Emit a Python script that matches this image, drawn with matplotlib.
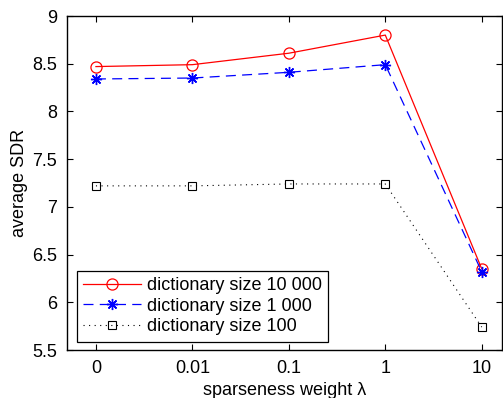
import numpy as np
import matplotlib
matplotlib.use('Agg')
import matplotlib.pyplot as plt

plt.rcParams['font.family'] = ['Liberation Sans', 'DejaVu Sans']

# Data
lambdas = ['0', '0.01', '0.1', '1', '10']
sdr_10000 = [8.47, 8.49, 8.61, 8.80, 6.35]
sdr_1000 = [8.34, 8.35, 8.41, 8.49, 6.32]
sdr_100 = [7.22, 7.22, 7.24, 7.24, 5.74]

x = np.arange(len(lambdas))

fig = plt.figure(figsize=(5.03, 3.98), dpi=100)
ax = fig.add_axes([67/503, 1 - 350/398, (502-67)/503, (350-16)/398])

ax.plot(x, sdr_10000, 'r-', marker='o', mfc='none', ms=8, mew=0.9, lw=0.9,
        label='dictionary size 10 000')
ax.plot(x, sdr_1000, color='b', ls=(0, (8, 5)), marker=(8, 2, 0), ms=8, mew=1.0, lw=0.9,
        label='dictionary size 1 000')
ax.plot(x, sdr_100, color='k', ls=(0, (1, 4)), marker='s', mfc='none', ms=6,
        mew=0.8, lw=0.8, label='dictionary size 100')

ax.set_xlim(-0.3, 4.21)
ax.set_ylim(5.5, 9)
ax.set_xticks(x)
ax.set_xticklabels(lambdas)
ax.set_yticks(np.arange(5.5, 9.01, 0.5))
ax.set_yticklabels(['5.5', '6', '6.5', '7', '7.5', '8', '8.5', '9'])
ax.tick_params(direction='in', top=True, right=True, labelsize=13, length=4, pad=7)
for s in ax.spines.values():
    s.set_linewidth(1.0)

ax.set_xlabel('sparseness weight λ', fontsize=13, labelpad=4)
ax.set_ylabel('average SDR', fontsize=13, labelpad=3)

leg = ax.legend(loc='lower left', fontsize=13, handlelength=3.2, handletextpad=0.3,
                borderpad=0.35, labelspacing=0.2, fancybox=False, framealpha=1,
                edgecolor='k', bbox_to_anchor=(0.023, 0.025), borderaxespad=0)
leg.get_frame().set_linewidth(0.9)

fig.savefig('out.png', dpi=100)
